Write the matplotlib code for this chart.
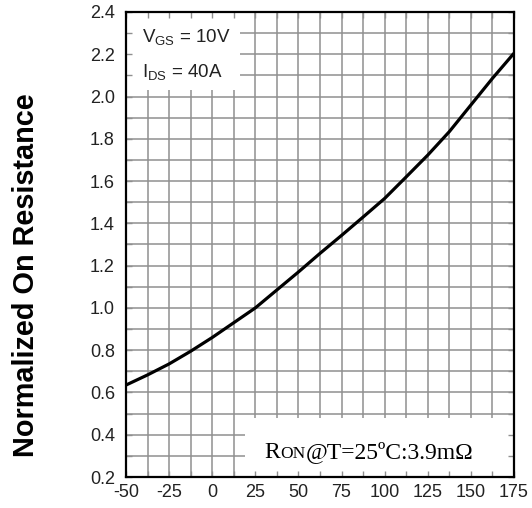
""" Normalized on-resistance vs junction temperature, datasheet style """

import matplotlib
matplotlib.use('Agg')
import matplotlib.pyplot as plt
from matplotlib.patches import Rectangle
from matplotlib.offsetbox import TextArea, HPacker, AnchoredOffsetbox
import numpy as np

plt.rcParams['font.family'] = ['Liberation Sans', 'DejaVu Sans']
plt.rcParams['mathtext.fontset'] = 'custom'
plt.rcParams['mathtext.rm'] = 'Liberation Sans'

# Data
temp_c = [-50, -37.5, -25, -12.5, 0, 12.5, 25, 37.5, 50, 62.5, 75, 87.5,
          100, 112.5, 125, 137.5, 150, 162.5, 175]
r_norm = [0.635, 0.683, 0.735, 0.795, 0.86, 0.93, 1.0, 1.085, 1.17, 1.258, 1.343, 1.43,
          1.518, 1.62, 1.723, 1.834, 1.96, 2.086, 2.205]

x_ticks = [-50, -25, 0, 25, 50, 75, 100, 125, 150, 175]
y_ticks = [0.2, 0.4, 0.6, 0.8, 1.0, 1.2, 1.4, 1.6, 1.8, 2.0, 2.2, 2.4]

GRID_COLOR = '#8f8f8f'

fig = plt.figure(figsize=(5.32, 5.08), dpi=100)
ax = fig.add_axes([126 / 532, 31 / 508, 388 / 532, 465 / 508])
ax.set_xlim(-50, 175)
ax.set_ylim(0.2, 2.4)

# grid drawn by hand so the white label boxes can sit on top of it
for gx in np.arange(-37.5, 175, 12.5):
    ax.axvline(gx, color=GRID_COLOR, lw=1.1, zorder=0.5)
for gy in np.arange(0.3, 2.35, 0.1):
    ax.axhline(gy, color=GRID_COLOR, lw=1.1, zorder=0.5)

# white boxes covering the grid behind the annotations
ax.add_patch(Rectangle((-50, 2.03), 66, 0.37, facecolor='white', edgecolor='none', zorder=1))
ax.add_patch(Rectangle((19, 0.2), 156, 0.28, facecolor='white', edgecolor='none', zorder=1))

ax.plot(temp_c, r_norm, color='black', lw=2.3, zorder=3, solid_capstyle='butt')

ax.set_xticks(x_ticks)
ax.set_yticks(y_ticks)
ax.set_xticklabels([str(t) for t in x_ticks])
ax.set_yticklabels(['%.1f' % t for t in y_ticks])
ax.set_xticks(np.arange(-37.5, 175, 25), minor=True)
ax.set_yticks(np.arange(0.3, 2.4, 0.2), minor=True)
ax.tick_params(which='both', direction='in', top=True, right=True, length=4,
               width=1.0, color=GRID_COLOR)
ax.tick_params(axis='x', which='major', labelsize=13, pad=5, labelcolor='#222222')
ax.tick_params(axis='y', which='major', labelsize=13, pad=8, labelcolor='#222222')

for sp in ax.spines.values():
    sp.set_linewidth(1.6)
    sp.set_color('black')

ax.set_ylabel('Normalized On Resistance', fontsize=20.8, fontweight='bold')
ax.yaxis.set_label_coords((40 - 126) / 388, (477 - 275) / 465)

# conditions box
ax.text(-40.5, 2.28, r'$\mathregular{V_{GS}}$ = 10V', fontsize=13.5, color='#222222',
        va='center', ha='left', zorder=4)
ax.text(-40.5, 2.117, r'$\mathregular{I_{DS}}$ = 40A', fontsize=13.5, color='#222222',
        va='center', ha='left', zorder=4)

# RON note, with small caps "ON"
serif = 'Liberation Serif'
parts = [TextArea('R', textprops=dict(family=serif, size=17)),
         TextArea('ON', textprops=dict(family=serif, size=12.5)),
         TextArea('@T=25\u00baC:3.9m\u03a9', textprops=dict(family=serif, size=17))]
note = HPacker(children=parts, align='baseline', pad=0, sep=0)
anchored = AnchoredOffsetbox(loc='center', child=note, frameon=False,
                             bbox_to_anchor=(0.626, 0.054), bbox_transform=ax.transAxes,
                             borderpad=0, pad=0)
anchored.set_zorder(4)
ax.add_artist(anchored)

fig.savefig('out.png', dpi=100)
